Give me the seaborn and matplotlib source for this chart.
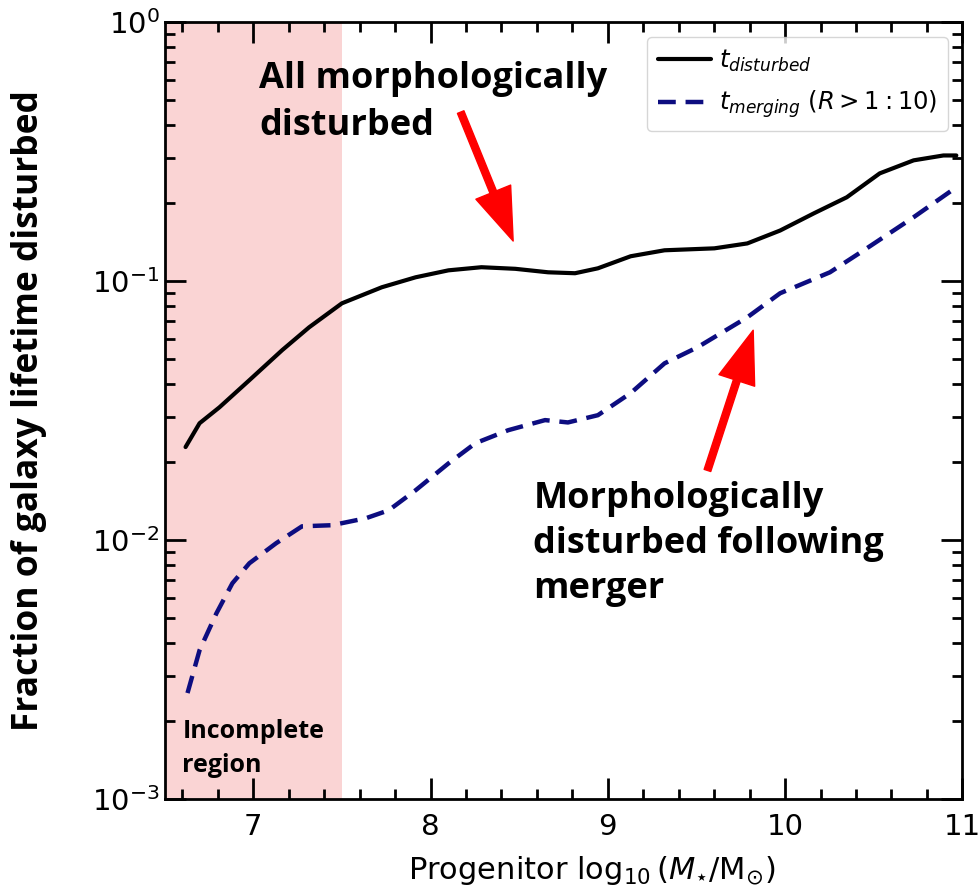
import matplotlib
matplotlib.use("Agg")
import matplotlib.pyplot as plt
import seaborn as sns
import pandas as pd
import numpy as np
from matplotlib.ticker import MultipleLocator, LogLocator, NullFormatter

# Data
mass_dist = [6.618, 6.697, 6.809, 6.978, 7.163, 7.315, 7.500, 7.725, 7.916, 8.101, 8.287,
             8.478, 8.663, 8.815, 8.944, 9.129, 9.320, 9.601, 9.787, 9.972, 10.163, 10.348,
             10.534, 10.725, 10.893, 10.966]
frac_dist = [0.0229, 0.0283, 0.0326, 0.0415, 0.0542, 0.0664, 0.0822, 0.0948, 0.1036, 0.1102,
             0.1133, 0.1117, 0.1083, 0.1074, 0.1122, 0.1249, 0.1317, 0.134, 0.140, 0.157,
             0.183, 0.211, 0.261, 0.293, 0.306, 0.306]

mass_merg = [6.629, 6.697, 6.792, 6.882, 6.978, 7.129, 7.275, 7.444, 7.635, 7.764, 7.916,
             8.101, 8.253, 8.438, 8.646, 8.775, 8.944, 9.129, 9.320, 9.506, 9.787, 9.972,
             10.253, 10.444, 10.725, 10.966]
frac_merg = [0.00257, 0.00376, 0.00522, 0.00682, 0.00815, 0.00974, 0.01132, 0.01143, 0.01216,
             0.01305, 0.0156, 0.0198, 0.0237, 0.0266, 0.0291, 0.0285, 0.0304, 0.0370, 0.0482,
             0.0556, 0.0726, 0.0899, 0.1083, 0.1317, 0.1767, 0.2307]

labels = [r"$t_{disturbed}$", r"$t_{merging}$ $(R > 1:10)$"]
incomplete = (6.5, 7.5)

sns.set_style("ticks")
plt.rcParams['font.family'] = ['DejaVu Sans']
for k in ['text.color', 'axes.labelcolor', 'xtick.color', 'ytick.color', 'axes.edgecolor']:
    plt.rcParams[k] = 'black'

df1 = pd.DataFrame({"x": mass_dist, "y": frac_dist})
df2 = pd.DataFrame({"x": mass_merg, "y": frac_merg})

fig = plt.figure(figsize=(9.8, 8.91), dpi=100)
ax = fig.add_axes([0.168, 0.103, 0.814, 0.872])

ax.axvspan(incomplete[0], incomplete[1], color="#f4a0a0", alpha=0.45, lw=0, zorder=0)

sns.lineplot(data=df1, x="x", y="y", ax=ax, color="black", lw=3, label=labels[0], sort=False)
sns.lineplot(data=df2, x="x", y="y", ax=ax, color="#0d0d80", lw=3.2, label=labels[1],
             sort=False, linestyle=(0, (4, 2.2)))

ax.set_yscale("log")
ax.set_xlim(6.5, 11)
ax.set_ylim(1e-3, 1)
ax.xaxis.set_major_locator(MultipleLocator(1))
ax.xaxis.set_minor_locator(MultipleLocator(0.2))
ax.yaxis.set_major_locator(LogLocator(base=10, numticks=10))
ax.yaxis.set_minor_locator(LogLocator(base=10, subs=np.arange(2, 10), numticks=20))
ax.yaxis.set_minor_formatter(NullFormatter())
ax.tick_params(which="both", direction="in", top=True, right=True, width=2, labelsize=21, color="black")
ax.tick_params(which="major", length=15)
ax.tick_params(which="minor", length=7)
ax.tick_params(axis="x", pad=10)
for s in ax.spines.values():
    s.set_linewidth(2)

bold_font = ["Open Sans", "DejaVu Sans"]
ax.set_xlabel(r"Progenitor $\log_{10}(M_{\star}/\mathrm{M}_{\odot})$", fontsize=22)
ax.xaxis.set_label_coords(0.536, -0.071, transform=ax.transAxes)
ax.set_ylabel("Fraction of galaxy lifetime disturbed", fontsize=25.5, fontweight="bold",
              family=bold_font)
ax.yaxis.set_label_coords(-0.148, 0.5, transform=ax.transAxes)

leg = ax.legend(loc="upper right", fontsize=17.5, frameon=True, handlelength=2.2,
                handletextpad=0.3, borderpad=0.45, labelspacing=0.6, borderaxespad=0.6)
leg.get_frame().set_edgecolor("#cccccc")

ax.text(7.034, 0.707, "All morphologically\ndisturbed", fontsize=26, fontweight="bold",
        family=bold_font, va="top", ha="left", linespacing=1.38)
ax.text(8.58, 0.0169, "Morphologically\ndisturbed following\nmerger", fontsize=26,
        fontweight="bold", family=bold_font, va="top", ha="left", linespacing=1.33)
ax.text(6.6, 0.00204, "Incomplete\nregion", fontsize=18, fontweight="bold",
        family=bold_font, va="top", ha="left", linespacing=1.45)

ax.annotate("", xy=(8.466, 0.143), xytext=(8.17, 0.45),
            arrowprops=dict(facecolor="red", edgecolor="red", width=5, headwidth=27, headlength=38))
ax.annotate("", xy=(9.82, 0.0647), xytext=(9.562, 0.0186),
            arrowprops=dict(facecolor="red", edgecolor="red", width=5, headwidth=27, headlength=38))

fig.savefig("out.png", dpi=100)
